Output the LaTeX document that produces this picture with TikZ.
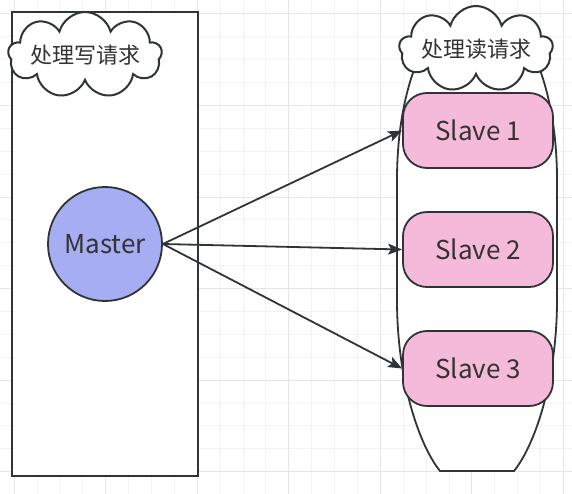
\documentclass[tikz,border=0pt]{standalone}
\usepackage{fontspec}
\setmainfont{Noto Sans CJK SC}
\usetikzlibrary{shapes.symbols,arrows.meta}
\definecolor{ink}{HTML}{2F3437}
\definecolor{txt}{HTML}{333333}
\definecolor{slavefill}{HTML}{F5B9DA}
\definecolor{masterfill}{HTML}{A6ADF2}
\definecolor{gridminor}{HTML}{F3F3F3}
\definecolor{gridmajor}{HTML}{E6E6E6}
\begin{document}
\begin{tikzpicture}[x=1pt,y=-1pt,
  slavebox/.style={draw=ink, line width=1.8pt, fill=slavefill, rounded corners=24pt,
    minimum width=150pt, minimum height=75pt, inner sep=0pt, text=txt,
    font=\fontsize{26}{30}\selectfont},
  masterbox/.style={circle, draw=ink, line width=1.8pt, fill=masterfill, minimum size=114pt,
    inner sep=0pt, text=txt, font=\fontsize{26}{30}\selectfont},
  cloudbox/.style={cloud, cloud puffs=9, cloud ignores aspect, draw=ink, line width=2pt,
    fill=white, inner sep=0pt, text=txt, font=\fontsize{22}{26}\selectfont},
  conn/.style={draw=ink, line width=1.8pt, -{Stealth[length=14pt,width=11pt,inset=3pt]}}
]
\useasboundingbox (0,0) rectangle (572,494);
\fill[white] (0,0) rectangle (572,494);
% grid
\foreach \k in {0,...,24} \draw[gridminor, line width=1pt] ({14.2+\k*22.885},0) -- ({14.2+\k*22.885},494);
\foreach \k in {0,...,20} \draw[gridminor, line width=1pt] (0,{14+\k*22.885}) -- (572,{14+\k*22.885});
\foreach \k in {0,4,...,24} \draw[gridmajor, line width=1pt] ({14.2+\k*22.885},0) -- ({14.2+\k*22.885},494);
\foreach \k in {0,4,...,20} \draw[gridmajor, line width=1pt] (0,{14+\k*22.885}) -- (572,{14+\k*22.885});
% left panel
\node[draw=ink, line width=2pt, fill=white, minimum width=186pt, minimum height=464pt, inner sep=0pt] (wr) at (105,244) {};
% right container
\draw[ink, line width=1.8pt, fill=white] (440,471) .. controls (419,445) and (397,380) .. (397,300) -- (397,180) .. controls (397,100) and (419,45) .. (440,25) -- (514,25) .. controls (535,45) and (557,100) .. (557,180) -- (557,300) .. controls (557,380) and (535,445) .. (514,471) -- cycle;
% clouds
\node[cloudbox, minimum width=146pt, minimum height=86pt] (wc) at (85,55) {处理写请求};
\node[cloudbox, minimum width=144pt, minimum height=86pt] (rc) at (476,49) {处理读请求};
% nodes
\node[masterbox] (m) at (105,244) {Master};
\node[slavebox] (s1) at (478,130.5) {Slave 1};
\node[slavebox] (s2) at (478,249.5) {Slave 2};
\node[slavebox] (s3) at (478,368.5) {Slave 3};
% connectors
\draw[conn] (m.east) -- (s1.west);
\draw[conn] (m.east) -- (s2.west);
\draw[conn] (m.east) -- (s3.west);
\end{tikzpicture}
\end{document}
